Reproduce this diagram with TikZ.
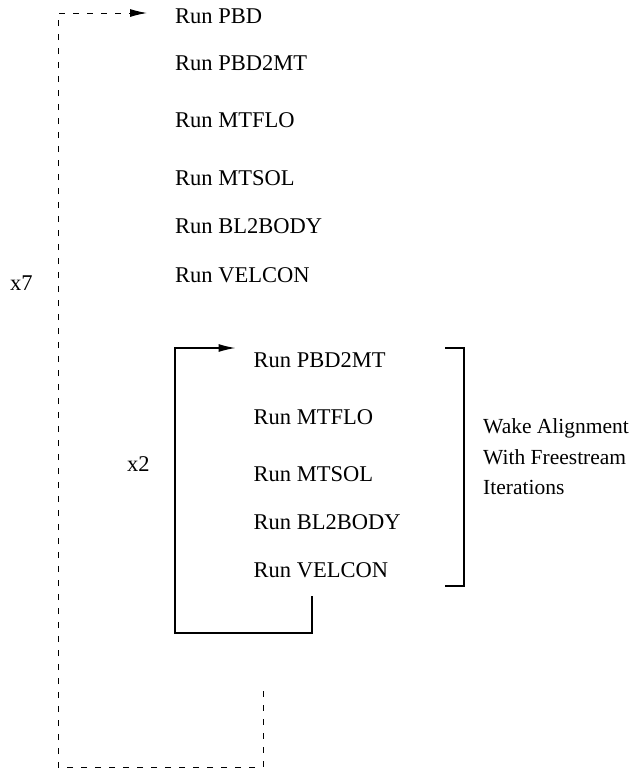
\documentclass[tikz,border=0pt]{standalone}
\usepackage{fontspec}
\setmainfont{Liberation Serif}
\usetikzlibrary{arrows.meta}
\begin{document}
\begin{tikzpicture}[x=1pt,y=-1pt,
  lbl/.style={anchor=base west,inner sep=0pt,font=\fontsize{22.5}{27}\selectfont},
  side/.style={anchor=base west,inner sep=0pt,font=\fontsize{21.5}{26}\selectfont},
  outerloop/.style={draw=black,line width=1pt,dash pattern=on 6pt off 8pt},
  innerloop/.style={draw=black,line width=1.2pt},
  tip/.style={-{Latex[length=17pt,width=8pt]}}]
\useasboundingbox (0,0) rectangle (639,769);
% outer sequence
\node[lbl] (pbd)  at (175,23)  {Run PBD};
\node[lbl] (pbdm) at (175,70)  {Run PBD2MT};
\node[lbl] (flo)  at (175,127) {Run MTFLO};
\node[lbl] (sol)  at (175,185) {Run MTSOL};
\node[lbl] (bl)   at (175,233) {Run BL2BODY};
\node[lbl] (vel)  at (175,282) {Run VELCON};
\node[lbl] (x7)   at (10,290)  {x7};
% inner sequence
\node[lbl] (ipbdm) at (253.5,367) {Run PBD2MT};
\node[lbl] (iflo)  at (253.5,424) {Run MTFLO};
\node[lbl] (isol)  at (253.5,481) {Run MTSOL};
\node[lbl] (ibl)   at (253.5,529) {Run BL2BODY};
\node[lbl] (ivel)  at (253.5,577) {Run VELCON};
\node[lbl] (x2)    at (127,471)   {x2};
% side note
\node[side] (w1) at (483,433) {Wake Alignment};
\node[side] (w2) at (483,464) {With Freestream};
\node[side] (w3) at (483,494) {Iterations};
% loop starts
\coordinate (ostart) at (263,691);
\coordinate (istart) at (312,596);
% outer dashed loop
\draw[outerloop,tip] (ostart) -- (263,767) -- (58,767) -- (58,13)
  -- ([xshift=-28pt,yshift=10pt]pbd.base west);
% inner solid loop
\draw[innerloop,tip] (istart) -- (312,633) -- (175,633) -- (175,348)
  -- ([xshift=-18pt,yshift=19pt]ipbdm.base west);
% bracket
\draw[innerloop] (445,348) -- (464,348) -- (464,586) -- (445,586);
\end{tikzpicture}
\end{document}
